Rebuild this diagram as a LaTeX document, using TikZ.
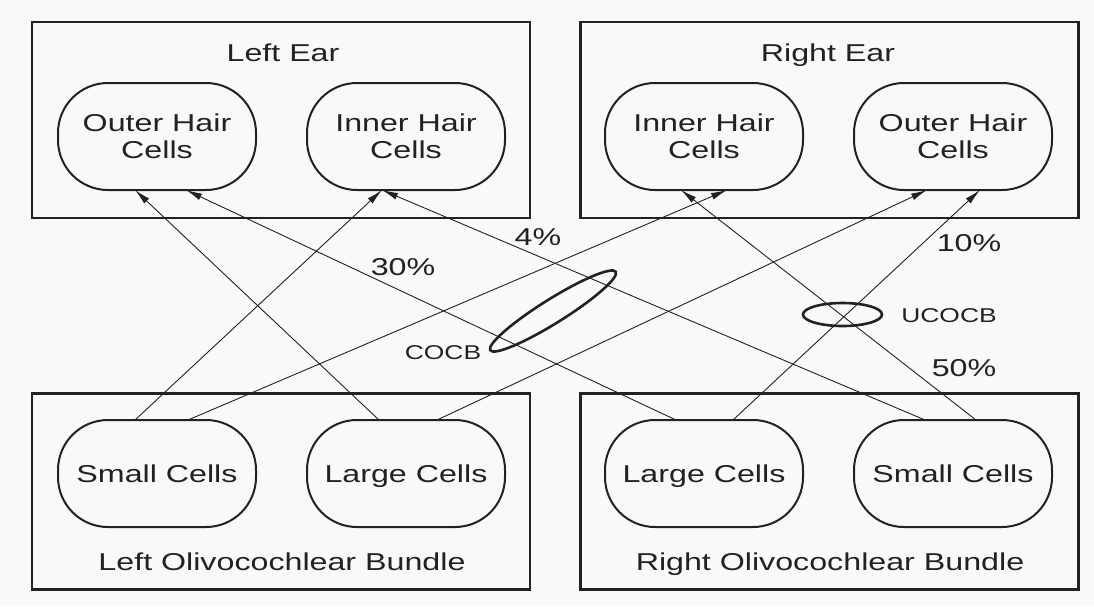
\documentclass[tikz,border=0pt]{standalone}
\usepackage{fontspec}
\setmainfont{Liberation Sans}[FakeStretch=1.32]
\usetikzlibrary{arrows.meta,shapes.geometric}
\definecolor{ink}{HTML}{222222}
\definecolor{paper}{HTML}{F9F9F9}
\begin{document}
\begin{tikzpicture}[x=1pt,y=-1pt,
  group/.style={draw=ink, line width=2.2pt, minimum width=498pt, minimum height=196pt,
    inner sep=0pt, outer sep=0pt},
  cell/.style={draw=ink, line width=2pt, rounded corners=50pt, minimum width=198pt,
    minimum height=107pt, align=center, inner sep=0pt, outer sep=0pt, text=ink,
    font=\fontsize{24.4}{27}\selectfont},
  onecell/.style={cell, text height=17.5pt, text depth=0pt},
  title/.style={text=ink, font=\fontsize{24.4}{27}\selectfont, inner sep=0pt,
    text height=17.5pt, text depth=0pt},
  tag/.style={text=ink, font=\fontsize{20}{24}\selectfont, inner sep=0pt,
    text height=14.5pt, text depth=0pt},
  fiber/.style={draw=ink, line width=0.9pt, -{Latex[length=16pt,width=7pt]}},
  bundle/.style={draw=ink, line width=2.6pt, ellipse, inner sep=0pt}]

\fill[paper] (0,0) rectangle (1094,606);
\useasboundingbox (0,0) rectangle (1094,606);

% outer groups
\node[group] (leftear)  at (281,120)   {};
\node[group] (rightear) at (829.5,120) {};
\node[group] (leftocb)  at (281,491.5) {};
\node[group] (rightocb) at (829.5,491.5) {};

\node[title] (leftearT)  at (283,53)  {Left Ear};
\node[title] (rightearT) at (828,53)  {Right Ear};
\node[title] (leftocbT)  at (282,562) {Left Olivocochlear Bundle};
\node[title] (rightocbT) at (830,562) {Right Olivocochlear Bundle};

% hair cells
\node[cell] (leo) at (157,136.5) {Outer Hair\\Cells};
\node[cell] (lei) at (406,136.5) {Inner Hair\\Cells};
\node[cell] (rei) at (704,136.5) {Inner Hair\\Cells};
\node[cell] (reo) at (953,136.5) {Outer Hair\\Cells};

% olivocochlear cells
\node[onecell] (lsm) at (157,473.5) {Small Cells};
\node[onecell] (llg) at (406,473.5) {Large Cells};
\node[onecell] (rlg) at (704,473.5) {Large Cells};
\node[onecell] (rsm) at (953,473.5) {Small Cells};

% efferent fibres
\draw[fiber] ([xshift=-22pt]lsm.north) -- ([xshift=-24pt]lei.south);
\draw[fiber] ([xshift=31pt]lsm.north)  -- ([xshift=23pt]rei.south);
\draw[fiber] ([xshift=-27pt]llg.north) -- ([xshift=-22pt]leo.south);
\draw[fiber] ([xshift=31pt]llg.north)  -- ([xshift=-26pt]reo.south);
\draw[fiber] ([xshift=-28pt]rlg.north) -- ([xshift=29pt]leo.south);
\draw[fiber] ([xshift=29pt]rlg.north)  -- ([xshift=27pt]reo.south);
\draw[fiber] ([xshift=-28pt]rsm.north) -- ([xshift=-24pt]lei.south);
\draw[fiber] ([xshift=23pt]rsm.north)  -- ([xshift=-23pt]rei.south);

% percentages
\node[title] (p30) at (403,267) {30\%};
\node[title] (p4)  at (538,237) {4\%};
\node[title] (p10) at (969,243) {10\%};
\node[title] (p50) at (964,368) {50\%};

% bundles
\node[bundle, minimum width=148pt, minimum height=24pt, rotate=32] (cocb) at (553,311) {};
\node[bundle, minimum width=79pt, minimum height=23pt] (ucocb) at (842.5,314.5) {};
\node[tag] (cocbT)  at (443,352) {COCB};
\node[tag] (ucocbT) at (949,315) {UCOCB};
\end{tikzpicture}
\end{document}
